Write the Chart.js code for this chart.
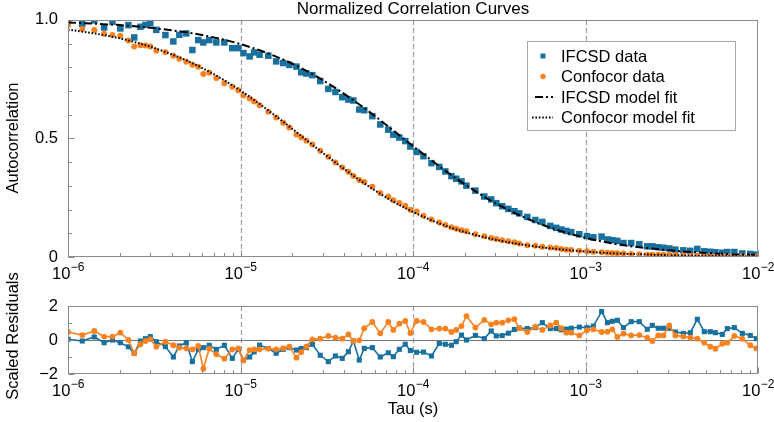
<!DOCTYPE html>
<html>
<head>
<meta charset="utf-8">
<script src="https://cdn.jsdelivr.net/npm/chart.js@4"></script>
<style>
  html, body { margin: 0; padding: 0; background: #ffffff; }
  #wrap { position: relative; width: 774px; height: 422px; }
  canvas { position: absolute; left: 0; top: 0; }
</style>
</head>
<body>
<div id="wrap">
  <canvas id="top" width="774" height="422"></canvas>
  <canvas id="bot" width="774" height="422"></canvas>
</div>
<script>
// ---------------- DATA ----------------
const tau = [1.00e-6,1.21e-6,1.42e-6,1.62e-6,1.81e-6,2.01e-6,2.24e-6,2.42e-6,2.63e-6,2.81e-6,3.00e-6,3.25e-6,3.67e-6,4.08e-6,4.42e-6,4.85e-6,5.26e-6,5.69e-6,6.09e-6,6.59e-6,7.24e-6,8.06e-6,8.96e-6,9.71e-6,
  1.04e-5,1.13e-5,1.20e-5,1.29e-5,1.45e-5,1.61e-5,1.77e-5,1.92e-5,2.11e-5,2.25e-5,2.41e-5,2.61e-5,2.90e-5,3.23e-5,3.55e-5,3.89e-5,4.22e-5,4.51e-5,4.88e-5,5.22e-5,5.81e-5,6.46e-5,7.19e-5,7.69e-5,8.33e-5,9.02e-5,9.65e-5,
  1.05e-4,1.15e-4,1.28e-4,1.42e-4,1.54e-4,1.67e-4,1.78e-4,1.91e-4,2.04e-4,2.30e-4,2.59e-4,2.84e-4,3.04e-4,3.29e-4,3.57e-4,3.87e-4,4.13e-4,4.60e-4,5.12e-4,5.62e-4,6.25e-4,6.77e-4,7.24e-4,7.74e-4,8.27e-4,9.21e-4,
  1.02e-3,1.11e-3,1.24e-3,1.34e-3,1.43e-3,1.53e-3,1.66e-3,1.84e-3,2.05e-3,2.28e-3,2.44e-3,2.64e-3,2.83e-3,3.06e-3,3.32e-3,3.69e-3,4.05e-3,4.45e-3,4.88e-3,5.29e-3,5.66e-3,6.21e-3,6.64e-3,7.29e-3,8.11e-3,9.02e-3,9.77e-3];

const ifcsdData = [0.996,0.984,0.998,0.968,0.992,0.964,0.978,0.926,0.971,0.979,0.986,0.958,0.936,0.909,0.937,0.943,0.873,0.915,0.905,0.915,0.905,0.905,0.881,0.881,
  0.860,0.846,0.863,0.853,0.849,0.825,0.818,0.810,0.803,0.779,0.774,0.767,0.742,0.709,0.696,0.674,0.664,0.660,0.622,0.619,0.594,0.559,0.537,0.516,0.504,0.489,0.466,
  0.443,0.425,0.396,0.380,0.361,0.341,0.330,0.319,0.301,0.280,0.255,0.243,0.227,0.214,0.203,0.193,0.184,0.169,0.156,0.148,0.131,0.123,0.116,0.110,0.105,0.096,
  0.088,0.083,0.086,0.074,0.071,0.068,0.059,0.059,0.054,0.045,0.045,0.041,0.039,0.036,0.031,0.028,0.026,0.034,0.024,0.022,0.020,0.018,0.021,0.021,0.015,0.013,0.010];

const confocorData = [0.979,0.962,0.957,0.942,0.936,0.933,0.913,0.888,0.893,0.892,0.888,0.870,0.864,0.849,0.836,0.824,0.811,0.802,0.772,0.777,0.755,0.733,0.718,0.703,
  0.681,0.669,0.656,0.640,0.613,0.588,0.566,0.546,0.517,0.504,0.490,0.474,0.448,0.423,0.399,0.377,0.360,0.342,0.325,0.316,0.296,0.270,0.255,0.239,0.228,0.216,0.199,
  0.192,0.174,0.158,0.145,0.135,0.125,0.119,0.113,0.109,0.096,0.088,0.080,0.076,0.071,0.066,0.062,0.057,0.050,0.047,0.043,0.040,0.038,0.034,0.031,0.029,0.026,
  0.024,0.022,0.020,0.018,0.017,0.016,0.015,0.013,0.012,0.010,0.009,0.009,0.009,0.009,0.008,0.007,0.006,0.005,0.004,0.004,0.003,0.003,0.003,0.004,0.003,0.002,0.001];

const ifcsdResid = [0.04,-0.06,0.18,-0.16,0.00,-0.16,-0.40,-0.78,-0.06,0.08,0.20,-0.10,-0.39,-1.00,-0.35,-0.16,-1.27,-0.55,-0.45,-0.31,-0.55,-0.31,-1.08,-0.55,
  -1.18,-1.00,-0.70,-0.30,-0.50,-0.78,-0.55,-0.45,-0.59,-0.50,-0.45,-0.25,-0.90,-1.27,-0.94,-1.08,-0.69,-0.06,-1.18,-0.49,-0.45,-1.00,-0.75,-0.98,-0.55,-0.25,-0.62,
  -0.72,-0.71,-0.94,-0.20,-0.25,-0.31,-0.10,0.29,0.00,0.27,0.08,0.53,0.24,0.26,0.40,0.62,0.70,0.67,0.73,1.02,0.67,0.67,0.60,0.64,0.69,0.76,
  0.73,0.82,1.67,1.02,1.10,1.16,0.73,1.08,1.08,0.63,0.86,0.69,0.69,0.69,0.47,0.39,0.43,1.22,0.49,0.49,0.43,0.33,0.67,0.73,0.39,0.27,0.08];

const confocorResid = [0.47,0.29,0.53,0.20,0.20,0.43,0.00,-0.78,-0.25,-0.06,0.04,-0.39,-0.10,-0.31,-0.45,-0.49,-0.55,-0.35,-1.69,-0.51,-0.84,-1.10,-0.55,-0.49,
  -1.20,-0.59,-0.55,-0.55,-0.51,-0.55,-0.49,-0.39,-1.04,-0.71,-0.39,0.04,0.08,0.24,0.14,0.08,0.33,-0.06,-0.02,0.69,1.06,0.39,1.06,0.59,0.96,1.12,0.41,
  1.12,1.06,0.63,0.67,0.67,0.47,0.59,0.82,1.41,0.73,1.18,0.92,1.02,1.02,1.16,1.22,0.69,0.47,0.78,0.59,0.86,1.02,0.69,0.43,0.43,0.27,
  0.57,0.63,0.47,0.49,0.63,0.18,0.37,0.27,0.29,0.14,-0.06,0.27,0.27,0.86,0.27,0.20,0.14,0.08,-0.16,-0.39,-0.51,-0.22,-0.16,0.24,0.08,-0.31,-0.49];

const fitTau = [1e-6,1.5e-6,2e-6,3e-6,5e-6,7e-6,1e-5,1.5e-5,2e-5,3e-5,5e-5,7e-5,1e-4,1.5e-4,2e-4,3e-4,5e-4,7e-4,1e-3,1.5e-3,2e-3,3e-3,5e-3,7e-3,1e-2];
const ifcsdFit = [0.989,0.983,0.978,0.967,0.946,0.926,0.898,0.854,0.815,0.746,0.638,0.557,0.468,0.370,0.306,0.227,0.150,0.112,0.081,0.055,0.042,0.029,0.017,0.012,0.009];
const confocorFit = [0.959,0.940,0.922,0.887,0.825,0.771,0.702,0.610,0.540,0.439,0.320,0.251,0.190,0.135,0.105,0.073,0.045,0.033,0.023,0.015,0.012,0.008,0.005,0.003,0.002];

const seriesLabels = ['IFCSD data', 'Confocor data', 'IFCSD model fit', 'Confocor model fit'];
const titleText = 'Normalized Correlation Curves';
const xAxisTitle = 'Tau (s)';
const yTopTitle = 'Autocorrelation';
const yBotTitle = 'Scaled Residuals';

const xTickValues = [1e-6, 1e-5, 1e-4, 1e-3, 1e-2];
const xTickBase = ['10', '10', '10', '10', '10'];
const xTickExp = ['\u22126', '\u22125', '\u22124', '\u22123', '\u22122'];
const gridDecades = [1e-5, 1e-4, 1e-3];
const yTopTicks = [0, 0.5, 1.0];
const yTopTickLabels = ['0', '0.5', '1.0'];
const yBotTicks = [-2, 0, 2];
const yBotTickLabels = ['\u22122', '0', '2'];

// ---------------- STYLE ----------------
const BLUE = '#18709f';
const ORANGE = '#f98220';
const AXIS = '#8a8a8a';
const GRID = '#a0a0a0';
const FONT = "'Liberation Sans', Arial, Helvetica, sans-serif";
const FS = 16.5;

const pts = (xs, ys) => xs.map((t, i) => ({ x: t, y: ys[i] }));

function line(ctx, x1, y1, x2, y2) { ctx.beginPath(); ctx.moveTo(x1, y1); ctx.lineTo(x2, y2); ctx.stroke(); }

const deco = {
  id: 'deco',
  beforeDatasetsDraw(chart, args, o) {
    const { ctx, chartArea: a, scales: { x, y } } = chart;
    ctx.save();
    ctx.strokeStyle = GRID; ctx.lineWidth = 1.2; ctx.setLineDash([5, 3]);
    for (const v of gridDecades) {
      const px = Math.round(x.getPixelForValue(v)) + 0.5;
      line(ctx, px, a.top, px, a.bottom);
    }
    ctx.setLineDash([]);
    if (o.zeroLine) {
      ctx.strokeStyle = '#777'; ctx.lineWidth = 1;
      const py = Math.round(y.getPixelForValue(0)) + 0.5;
      line(ctx, a.left, py, a.right, py);
    }
    ctx.restore();
  },
  afterDatasetsDraw(chart, args, o) {
    const { ctx, chartArea: a, scales: { x, y } } = chart;
    ctx.save();
    ctx.strokeStyle = AXIS; ctx.lineWidth = 1;
    const L = Math.round(a.left) + 0.5, R = Math.round(a.right) - 0.5;
    const T = Math.round(a.top) + 0.5, B = Math.round(a.bottom) - 0.5;
    ctx.strokeRect(L, T, R - L, B - T);
    for (let d = -6; d <= -2; d++) {
      for (let m = 1; m <= 9; m++) {
        const v = m * Math.pow(10, d);
        if (v > 1.0001e-2) break;
        const px = Math.round(x.getPixelForValue(v)) + 0.5;
        const len = m === 1 ? 6 : 3.5;
        line(ctx, px, B, px, B - len);
      }
    }
    for (let v = o.yMin; v <= o.yMax + 1e-9; v += o.yStep) {
      const py = Math.round(y.getPixelForValue(v)) + 0.5;
      const major = o.yMajor.some(m => Math.abs(m - v) < 1e-9);
      line(ctx, L, py, L + (major ? 6 : 3.5), py);
    }
    ctx.restore();
  },
  afterDraw(chart, args, o) {
    const { ctx, chartArea: a, scales: { x } } = chart;
    ctx.save();
    ctx.fillStyle = '#000';
    xTickValues.forEach((v, i) => {
      const px = x.getPixelForValue(v);
      ctx.font = FS + 'px ' + FONT;
      const wb = ctx.measureText(xTickBase[i]).width;
      ctx.font = '12px ' + FONT;
      const we = ctx.measureText(xTickExp[i]).width;
      const start = px - (wb + we) / 2;
      const base = a.bottom + 22;
      ctx.textAlign = 'left'; ctx.textBaseline = 'alphabetic';
      ctx.font = FS + 'px ' + FONT;
      ctx.fillText(xTickBase[i], start, base);
      ctx.font = '12px ' + FONT;
      ctx.fillText(xTickExp[i], start + wb + 0.5, base - 8);
    });
    ctx.font = FS + 'px ' + FONT;
    ctx.save();
    ctx.translate(13, o.yTitleY);
    ctx.rotate(-Math.PI / 2);
    ctx.textAlign = 'center'; ctx.textBaseline = 'middle';
    ctx.fillText(o.yTitle, 0, 0);
    ctx.restore();
    const cx = (a.left + a.right) / 2;
    if (o.title) {
      ctx.font = '17px ' + FONT;
      ctx.textAlign = 'center'; ctx.textBaseline = 'alphabetic';
      ctx.fillText(o.title, cx, 14);
    }
    if (o.xTitle) {
      ctx.font = FS + 'px ' + FONT;
      ctx.textAlign = 'center'; ctx.textBaseline = 'alphabetic';
      ctx.fillText(o.xTitle, cx, 414);
    }
    if (o.legend) {
      const bx = 527.5, by = 41.5, bw = 208, bh = 89;
      ctx.fillStyle = '#fff';
      ctx.fillRect(bx, by, bw, bh);
      ctx.strokeStyle = '#a8a8a8'; ctx.lineWidth = 1;
      ctx.strokeRect(bx, by, bw, bh);
      const rows = [56, 76.5, 97, 117.5];
      const ds = chart.data.datasets;
      ds.forEach((d, i) => {
        const yy = rows[i];
        if (d.showLine === false) {
          ctx.fillStyle = d.pointBackgroundColor;
          if (d.pointStyle === 'rect') ctx.fillRect(540.5, yy - 2.5, 5, 5);
          else { ctx.beginPath(); ctx.arc(543, yy, 2.7, 0, Math.PI * 2); ctx.fill(); }
        } else {
          ctx.strokeStyle = d.borderColor; ctx.lineWidth = d.borderWidth;
          ctx.setLineDash(d.borderDash || []);
          line(ctx, d.legendX0, yy, 553, yy);
          ctx.setLineDash([]);
        }
        ctx.fillStyle = '#000';
        ctx.font = FS + 'px ' + FONT;
        ctx.textAlign = 'left'; ctx.textBaseline = 'middle';
        ctx.fillText(d.label, 561, yy + 1);
      });
    }
    ctx.restore();
  }
};

const common = { responsive: false, animation: false, events: [] };

new Chart(document.getElementById('top'), {
  type: 'line',
  data: {
    datasets: [
      { label: seriesLabels[0], data: pts(tau, ifcsdData), showLine: false, pointStyle: 'rect',
        pointRadius: 4.6, pointBackgroundColor: BLUE, pointBorderWidth: 0, borderColor: BLUE, order: 4 },
      { label: seriesLabels[1], data: pts(tau, confocorData), showLine: false, pointStyle: 'circle',
        pointRadius: 3, pointBackgroundColor: ORANGE, pointBorderWidth: 0, borderColor: ORANGE, order: 3 },
      { label: seriesLabels[2], data: pts(fitTau, ifcsdFit), borderColor: '#000', borderWidth: 2,
        borderDash: [8, 3, 2, 3], pointRadius: 0, cubicInterpolationMode: 'monotone', fill: false, order: 2, legendX0: 535 },
      { label: seriesLabels[3], data: pts(fitTau, confocorFit), borderColor: '#000', borderWidth: 2,
        borderDash: [1.6, 1.8], pointRadius: 0, cubicInterpolationMode: 'monotone', fill: false, order: 1, legendX0: 532 }
    ]
  },
  options: Object.assign({}, common, {
    layout: { padding: { left: 0, right: 16, top: 19, bottom: 135 } },
    plugins: {
      legend: { display: false }, tooltip: { enabled: false },
      deco: { yMin: 0, yMax: 1, yStep: 0.1, yMajor: yTopTicks, yTitle: yTopTitle, yTitleY: 138, title: titleText, legend: true }
    },
    scales: {
      x: { type: 'logarithmic', min: 1e-6, max: 1e-2, grid: { display: false }, border: { display: false },
           ticks: { display: false }, afterFit: s => { s.height = 30; } },
      y: { min: 0, max: 1, grid: { display: false, drawTicks: false }, border: { display: false },
           afterBuildTicks: s => { s.ticks = yTopTicks.map(v => ({ value: v })); },
           ticks: { color: '#000', padding: 10, font: { family: FONT, size: FS },
                    callback: v => yTopTickLabels[yTopTicks.findIndex(t => Math.abs(t - v) < 1e-9)] },
           afterFit: s => { s.width = 68; } }
    }
  }),
  plugins: [deco]
});

new Chart(document.getElementById('bot'), {
  type: 'line',
  data: {
    datasets: [
      { label: 'IFCSD residuals', data: pts(tau, ifcsdResid), borderColor: BLUE, borderWidth: 1.6,
        pointStyle: 'rect', pointRadius: 3.6, pointBackgroundColor: BLUE, pointBorderWidth: 0, tension: 0, fill: false, order: 2 },
      { label: 'Confocor residuals', data: pts(tau, confocorResid), borderColor: ORANGE, borderWidth: 1.6,
        pointStyle: 'circle', pointRadius: 2.9, pointBackgroundColor: ORANGE, pointBorderWidth: 0, tension: 0, fill: false, order: 1 }
    ]
  },
  options: Object.assign({}, common, {
    layout: { padding: { left: 0, right: 16, top: 306, bottom: 18 } },
    plugins: {
      legend: { display: false }, tooltip: { enabled: false },
      deco: { yMin: -2, yMax: 2, yStep: 1, yMajor: yBotTicks, yTitle: yBotTitle, yTitleY: 336, zeroLine: true, xTitle: xAxisTitle }
    },
    scales: {
      x: { type: 'logarithmic', min: 1e-6, max: 1e-2, grid: { display: false }, border: { display: false },
           ticks: { display: false }, afterFit: s => { s.height = 30; } },
      y: { min: -2, max: 2, grid: { display: false, drawTicks: false }, border: { display: false },
           afterBuildTicks: s => { s.ticks = yBotTicks.map(v => ({ value: v })); },
           ticks: { color: '#000', padding: 10, font: { family: FONT, size: FS },
                    callback: v => yBotTickLabels[yBotTicks.findIndex(t => Math.abs(t - v) < 1e-9)] },
           afterFit: s => { s.width = 68; } }
    }
  }),
  plugins: [deco]
});
</script>
</body>
</html>
